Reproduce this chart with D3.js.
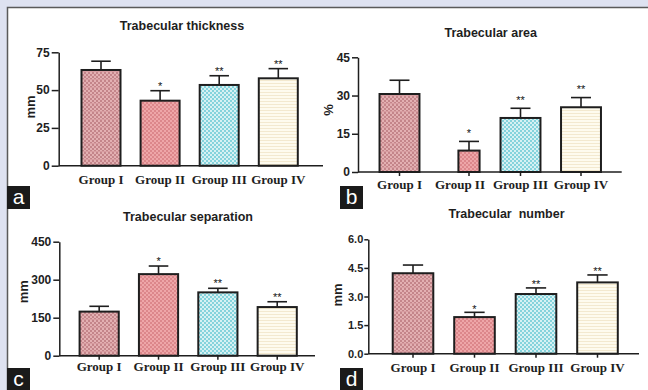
<!DOCTYPE html>
<html>
<head>
<meta charset="utf-8">
<script src="https://cdn.jsdelivr.net/npm/d3@7"></script>
<style>
  html, body { margin: 0; padding: 0; background: #dee2f1; }
  svg { display: block; }
</style>
</head>
<body>
<svg id="fig" width="648" height="390"></svg>
<script>
// Bone histomorphometry: mean + SD per group
const groups = ["Group I", "Group II", "Group III", "Group IV"];
const significance = ["", "*", "**", "**"];

const thicknessMean = [63.3, 43.0, 53.4, 57.8];
const thicknessSD   = [5.8, 6.6, 6.1, 6.4];

const areaMean = [30.6, 8.4, 21.2, 25.4];
const areaSD   = [5.4, 3.6, 3.8, 3.8];

const separationMean = [174, 322, 250, 192];
const separationSD   = [21, 32, 16, 21];

const numberMean = [4.22, 1.92, 3.13, 3.74];
const numberSD   = [0.43, 0.25, 0.32, 0.39];

const thicknessTicks  = [0, 25, 50, 75];
const areaTicks       = [0, 15, 30, 45];
const separationTicks = [0, 150, 300, 450];
const numberTicks     = [0, 1.5, 3.0, 4.5, 6.0];

const svg = d3.select("#fig");

// white figure sheet
svg.append("rect")
  .attr("x", 7.5).attr("y", 7.5)
  .attr("width", 660).attr("height", 400)
  .attr("fill", "#ffffff")
  .attr("stroke", "#5a5a5a").attr("stroke-width", 1.5);

// fill patterns for the four groups
const defs = svg.append("defs");
function pattern(id, w, h, base, draw) {
  const p = defs.append("pattern").attr("id", id)
    .attr("patternUnits", "userSpaceOnUse").attr("width", w).attr("height", h);
  p.append("rect").attr("width", w).attr("height", h).attr("fill", base);
  draw(p);
}
pattern("fill-g1", 4, 8, "#e3b0b2", p => {
  [[0,0],[2,2],[0,4],[2,6]].forEach(([x,y]) =>
    p.append("rect").attr("x", x).attr("y", y).attr("width", 2).attr("height", 2).attr("fill", "#c4858a"));
  p.append("rect").attr("x", 0).attr("y", 7).attr("width", 4).attr("height", 1).attr("fill", "#d79ca0");
});
pattern("fill-g2", 4, 4, "#eea6a8", p => {
  [[0,0],[2,2]].forEach(([x,y]) =>
    p.append("rect").attr("x", x).attr("y", y).attr("width", 2).attr("height", 2).attr("fill", "#dc878b"));
});
pattern("fill-g3", 4, 4, "#84d3dc", p => {
  [[0,0],[2,2]].forEach(([x,y]) =>
    p.append("rect").attr("x", x).attr("y", y).attr("width", 2).attr("height", 2).attr("fill", "#d6f1f3"));
});
pattern("fill-g4", 4, 3, "#fefbee", p => {
  p.append("rect").attr("x", 0).attr("y", 2).attr("width", 4).attr("height", 1).attr("fill", "#f3e9cf");
});
const fills = ["url(#fill-g1)", "url(#fill-g2)", "url(#fill-g3)", "url(#fill-g4)"];

const panels = [
  { title: "Trabecular thickness", titleX: 182, titleY: 30,
    mean: thicknessMean, sd: thicknessSD, ticks: thicknessTicks, fmt: d3.format("d"),
    axisX: 58.7, axisEnd: 323, yZero: 165.7, yTop: 52.3, tickFont: 12, tickLen: 7, tickPad: 2,
    band: [71.45, 307.85], xTicks: false, labelGap: 18.5, starGap: 7,
    ylabel: "mm", ylabelX: 30, ylabelY: 107, letter: "a", letterX: 7, letterY: 186 },
  { title: "Trabecular area", titleX: 490.7, titleY: 37,
    mean: areaMean, sd: areaSD, ticks: areaTicks, fmt: d3.format("d"),
    axisX: 358, axisEnd: 621.7, yZero: 172, yTop: 57.3, tickFont: 12, tickLen: 6, tickPad: 2,
    band: [369.25, 611.25], xTicks: true, labelGap: 16.5, starGap: 11,
    shift: [0, 9, 0, 0], widthScale: [1, 0.53, 1, 1],
    ylabel: "%", ylabelX: 328, ylabelY: 110, letter: "b", letterX: 340, letterY: 186 },
  { title: "Trabecular separation", titleX: 188, titleY: 221,
    mean: separationMean, sd: separationSD, ticks: separationTicks, fmt: d3.format("d"),
    axisX: 59.3, axisEnd: 315, yZero: 355.7, yTop: 241.7, tickFont: 12, tickLen: 6, tickPad: 2,
    band: [69.5, 306.9], xTicks: true, labelGap: 15, starGap: 7.5,
    ylabel: "mm", ylabelX: 23, ylabelY: 291.7, letter: "c", letterX: 7, letterY: 368 },
  { title: "Trabecular  number", titleX: 506.5, titleY: 218,
    mean: numberMean, sd: numberSD, ticks: numberTicks, fmt: d3.format(".1f"),
    axisX: 368.3, axisEnd: 639, yZero: 353.7, yTop: 239.3, tickFont: 11, tickLen: 4, tickPad: 1,
    band: [382.25, 628.25], xTicks: true, labelGap: 18, starGap: 6,
    ylabel: "mm", ylabelX: 337, ylabelY: 295, letter: "d", letterX: 340, letterY: 368 }
];

const sans = "'Liberation Sans', Arial, sans-serif";
const serif = "'Liberation Serif', 'Times New Roman', serif";
const ink = "#1e1e1e";

panels.forEach(P => {
  const g = svg.append("g");
  const yMax = P.ticks[P.ticks.length - 1];
  const y = d3.scaleLinear().domain([0, yMax]).range([P.yZero, P.yTop]);
  const x = d3.scaleBand().domain(groups).range(P.band)
    .paddingInner(0.34).paddingOuter(0.17);
  const shift = P.shift || [0, 0, 0, 0];
  const wScale = P.widthScale || [1, 1, 1, 1];
  const cx = (d, i) => x(d) + x.bandwidth() / 2 + shift[i];
  const bw = i => x.bandwidth() * wScale[i];
  const cap = x.bandwidth() * 0.5;

  // title
  g.append("text").attr("x", P.titleX).attr("y", P.titleY)
    .attr("text-anchor", "middle").attr("font-family", sans)
    .attr("font-weight", "bold").attr("font-size", 12.5).attr("fill", ink)
    .style("white-space", "pre").text(P.title);

  // y axis
  const yAxis = d3.axisLeft(y).tickValues(P.ticks).tickFormat(P.fmt)
    .tickSize(P.tickLen).tickPadding(P.tickPad).tickSizeOuter(0);
  const ya = g.append("g").attr("transform", `translate(${P.axisX},0)`).call(yAxis);
  ya.select(".domain").attr("stroke", ink).attr("stroke-width", 1.5);
  ya.selectAll(".tick line").attr("stroke", ink).attr("stroke-width", 1.5);
  ya.selectAll(".tick text").attr("font-family", sans).attr("font-weight", "bold")
    .attr("font-size", P.tickFont).attr("fill", ink);

  // error bars (upper half, drawn behind the bars)
  groups.forEach((d, i) => {
    const xc = cx(d, i);
    const top = y(P.mean[i] + P.sd[i]);
    g.append("line").attr("x1", xc).attr("x2", xc)
      .attr("y1", y(P.mean[i])).attr("y2", top)
      .attr("stroke", ink).attr("stroke-width", 1.6);
    g.append("line").attr("x1", xc - cap / 2).attr("x2", xc + cap / 2)
      .attr("y1", top).attr("y2", top)
      .attr("stroke", ink).attr("stroke-width", 1.6);
    if (significance[i]) {
      g.append("text").attr("x", xc).attr("y", top - P.starGap + 6.3)
        .attr("text-anchor", "middle").attr("font-family", sans)
        .attr("font-size", 11).attr("fill", "#111111").text(significance[i]);
    }
  });

  // bars
  g.selectAll("rect.bar").data(groups).join("rect").attr("class", "bar")
    .attr("x", (d, i) => cx(d, i) - bw(i) / 2)
    .attr("width", (d, i) => bw(i))
    .attr("y", (d, i) => y(P.mean[i]))
    .attr("height", (d, i) => y(0) - y(P.mean[i]))
    .attr("fill", (d, i) => fills[i])
    .attr("stroke", ink).attr("stroke-width", 2);

  // x axis line and ticks
  g.append("line").attr("x1", P.axisX).attr("x2", P.axisEnd)
    .attr("y1", P.yZero).attr("y2", P.yZero)
    .attr("stroke", ink).attr("stroke-width", 1.5);
  if (P.xTicks) {
    groups.forEach((d, i) => {
      g.append("line").attr("x1", cx(d, i)).attr("x2", cx(d, i))
        .attr("y1", P.yZero).attr("y2", P.yZero + 4)
        .attr("stroke", ink).attr("stroke-width", 1.5);
    });
  }

  // category labels
  groups.forEach(d => {
    g.append("text").attr("x", x(d) + x.bandwidth() / 2).attr("y", P.yZero + P.labelGap)
      .attr("text-anchor", "middle").attr("font-family", serif)
      .attr("font-weight", "bold").attr("font-size", 13).attr("fill", ink).text(d);
  });

  // y axis title
  g.append("text")
    .attr("transform", `translate(${P.ylabelX},${P.ylabelY}) rotate(-90)`)
    .attr("text-anchor", "middle").attr("dominant-baseline", "central")
    .attr("font-family", sans).attr("font-weight", "bold")
    .attr("font-size", 13).attr("fill", ink).text(P.ylabel);

  // panel letter
  g.append("rect").attr("x", P.letterX).attr("y", P.letterY)
    .attr("width", 23).attr("height", 23).attr("fill", "#1a1a1a");
  g.append("text").attr("x", P.letterX + 11.5).attr("y", P.letterY + 18)
    .attr("text-anchor", "middle").attr("font-family", sans)
    .attr("font-size", 21).attr("fill", "#ffffff").text(P.letter);
});
</script>
</body>
</html>
